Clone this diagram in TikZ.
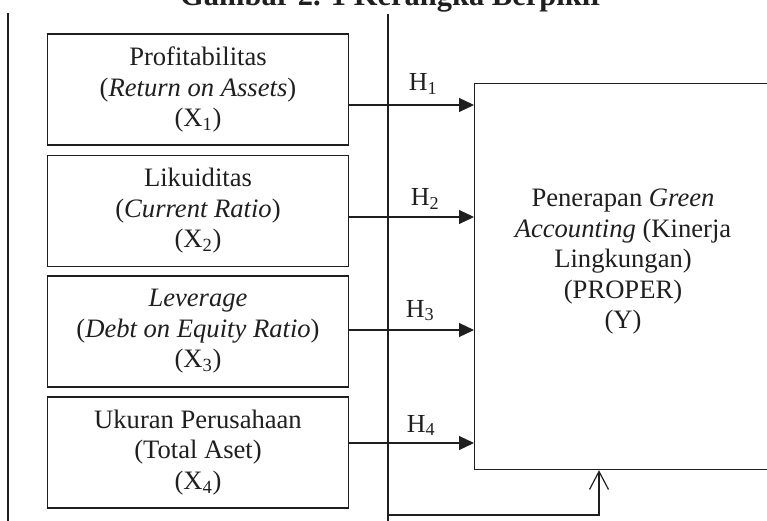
\documentclass[tikz,border=0pt]{standalone}
\usepackage{fontspec}
\setmainfont{Liberation Serif}
\usetikzlibrary{arrows.meta}
\begin{document}
\begin{tikzpicture}[x=1pt,y=-1pt,
  line width=1.2pt, color={black!88},
  varbox/.style={draw, minimum width=301pt, minimum height=111pt, align=center, inner sep=0pt, font=\fontsize{26.6}{30.5}\selectfont},
  harrow/.style={-{Triangle[length=15pt,width=14pt]}},
  hlabel/.style={anchor=base, inner sep=0pt, font=\fontsize{26}{28}\selectfont},
]
\useasboundingbox (0,0) rectangle (767,521);
\clip (0,0) rectangle (767,521);
\node[anchor=base, font=\fontsize{30.5}{32}\selectfont\bfseries, inner sep=0pt] (title) at (392,6) {Gambar 2. 1 Kerangka Berpikir};

% frame lines
\coordinate (ltop) at (8,13);
\coordinate (lbot) at (8,521);
\coordinate (mtop) at (388,14);
\coordinate (mbot) at (388,521);
\draw (ltop) -- (lbot);
\draw (mtop) -- (mbot);

% variable boxes
\node[varbox] (b1) at (198,89.5) {Profitabilitas\\(\textit{Return on Assets})\\(X\textsubscript{1})};
\node[varbox] (b2) at (198,211) {Likuiditas\\(\textit{Current Ratio})\\(X\textsubscript{2})};
\node[varbox] (b3) at (198,331.5) {\textit{Leverage}\\(\textit{Debt on Equity Ratio})\\(X\textsubscript{3})};
\node[varbox] (b4) at (198,452.5) {Ukuran Perusahaan\\(Total Aset)\\(X\textsubscript{4})};

% dependent box
\node[draw, minimum width=340pt, minimum height=386pt, anchor=north west, inner sep=0pt] (Y) at (474,83) {};
\node[align=center, inner sep=0pt, font=\fontsize{26.6}{30.5}\selectfont] (Ytext) at (623,262) {Penerapan \textit{Green}\\\textit{Accounting} (Kinerja\\Lingkungan)\\(PROPER)\\(Y)};

% hypothesis arrows
\coordinate (s1) at ([yshift=-15.5pt]b1.east);
\coordinate (s2) at ([yshift=-6pt]b2.east);
\coordinate (s3) at ([yshift=1.5pt]b3.east);
\coordinate (s4) at ([yshift=9.5pt]b4.east);
\draw[harrow] (s1) -- (s1 -| Y.west);
\draw[harrow] (s2) -- (s2 -| Y.west);
\draw[harrow] (s3) -- (s3 -| Y.west);
\draw[harrow] (s4) -- (s4 -| Y.west);

\node[hlabel] (h1) at (423,91) {H\textsubscript{1}};
\node[hlabel] (h2) at (425,206) {H\textsubscript{2}};
\node[hlabel] (h3) at (420,317) {H\textsubscript{3}};
\node[hlabel] (h4) at (421,432) {H\textsubscript{4}};

% simultaneous arrow
\coordinate (fb) at (388,515);
\coordinate (yin) at ([xshift=125pt]Y.south west);
\draw[-{Straight Barb[length=18pt,width=19pt]}] (fb) -| (yin);
\end{tikzpicture}
\end{document}
